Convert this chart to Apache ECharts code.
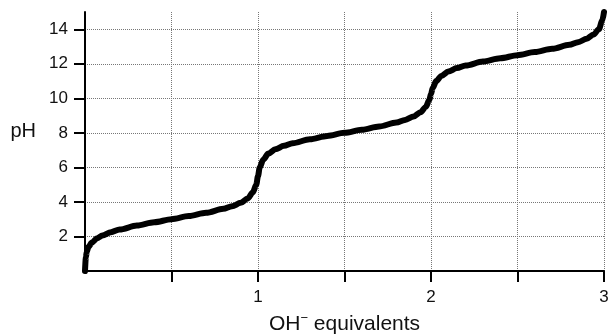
<!DOCTYPE html>
<html lang="en">
<head>
    <meta charset="UTF-8">
    <title>Titration curve</title>
    <script src="https://cdn.jsdelivr.net/npm/echarts@6/dist/echarts.min.js"></script>
    <style>
        *{ padding:0; margin:0; }
        html,body{ background:#fff; }
        #main{ width:608px; height:334px; }
    </style>
</head>
<body>
    <div id="main"></div>
    <script>
        // OH- equivalents added
        var equiv=[0,0.005,0.01,0.02,0.04,0.07,0.1,0.15,0.2,0.3,0.4,0.5,0.6,0.7,0.8,0.85,0.9,0.94,0.97,0.99,
                   1.0,1.01,1.03,1.06,1.1,1.15,1.2,1.3,1.4,1.5,1.6,1.7,1.8,1.85,1.9,1.94,1.97,1.99,
                   2.0,2.01,2.03,2.06,2.1,2.15,2.2,2.3,2.4,2.5,2.6,2.7,2.8,2.85,2.9,2.94,2.97,2.99,3.0]
        // pH at each point
        var ph=[0,0.8,1.1,1.4,1.65,1.9,2.05,2.25,2.4,2.63,2.82,3.0,3.18,3.37,3.6,3.75,3.95,4.2,4.55,5.0,
                5.5,6.0,6.45,6.8,7.05,7.25,7.4,7.63,7.82,8.0,8.18,8.37,8.6,8.75,8.95,9.2,9.5,9.9,
                10.25,10.6,11.0,11.3,11.55,11.75,11.9,12.13,12.32,12.5,12.68,12.87,13.1,13.25,13.45,13.7,14.0,14.5,15.0]
        var xTicks=[0.5,1,1.5,2,2.5,3]
        var xLabels=[1,2,3]
        var yTicks=[2,4,6,8,10,12,14]

        var points=equiv.map(function(x,i){ return [x,ph[i]] })

        var myChart=echarts.init(document.getElementById("main"))
        var font="Liberation Sans, Arial, sans-serif"
        var option={
            animation:false,
            grid:{ left:85, right:4, top:12, bottom:63, containLabel:false, outerBoundsMode:"none" },
            xAxis:{
                type:"value",
                min:0, max:3, interval:0.5,
                name:"{a|OH}{s|−}{a| equivalents}",
                nameLocation:"middle",
                nameGap:41,
                nameTextStyle:{
                    rich:{
                        a:{ fontSize:21, color:"#111", fontFamily:font },
                        s:{ fontSize:13, color:"#111", fontFamily:font, verticalAlign:"top", padding:[0,0,11,0] }
                    }
                },
                axisLine:{ show:true, onZero:false, lineStyle:{ color:"#000", width:2 } },
                axisTick:{ show:true, customValues:xTicks, length:11, lineStyle:{ color:"#000", width:2 } },
                axisLabel:{ customValues:xLabels, margin:18, fontSize:17, color:"#111", fontFamily:font },
                splitLine:{ show:true, lineStyle:{ color:"#777", type:"dotted", width:1 } }
            },
            yAxis:{
                type:"value",
                min:0, max:15, interval:1,
                name:"pH",
                nameLocation:"middle",
                nameRotate:0,
                nameGap:49,
                nameTextStyle:{ fontSize:20, color:"#111", fontFamily:font, verticalAlign:"bottom" },
                axisLine:{ show:true, onZero:false, lineStyle:{ color:"#000", width:2 } },
                axisTick:{ show:true, customValues:yTicks, length:11, lineStyle:{ color:"#000", width:2 } },
                axisLabel:{ customValues:yTicks, margin:17, fontSize:17, color:"#111", fontFamily:font },
                splitLine:{ show:true, lineStyle:{ color:"#777", type:"dotted", width:1 } }
            },
            series:[
                {
                    type:"line",
                    data:points,
                    showSymbol:false,
                    smooth:0.3,
                    smoothMonotone:"x",
                    clip:false,
                    lineStyle:{ color:"#000", width:6, cap:"round", join:"round" }
                }
            ]
        }
        myChart.setOption(option)
    </script>
</body>
</html>
